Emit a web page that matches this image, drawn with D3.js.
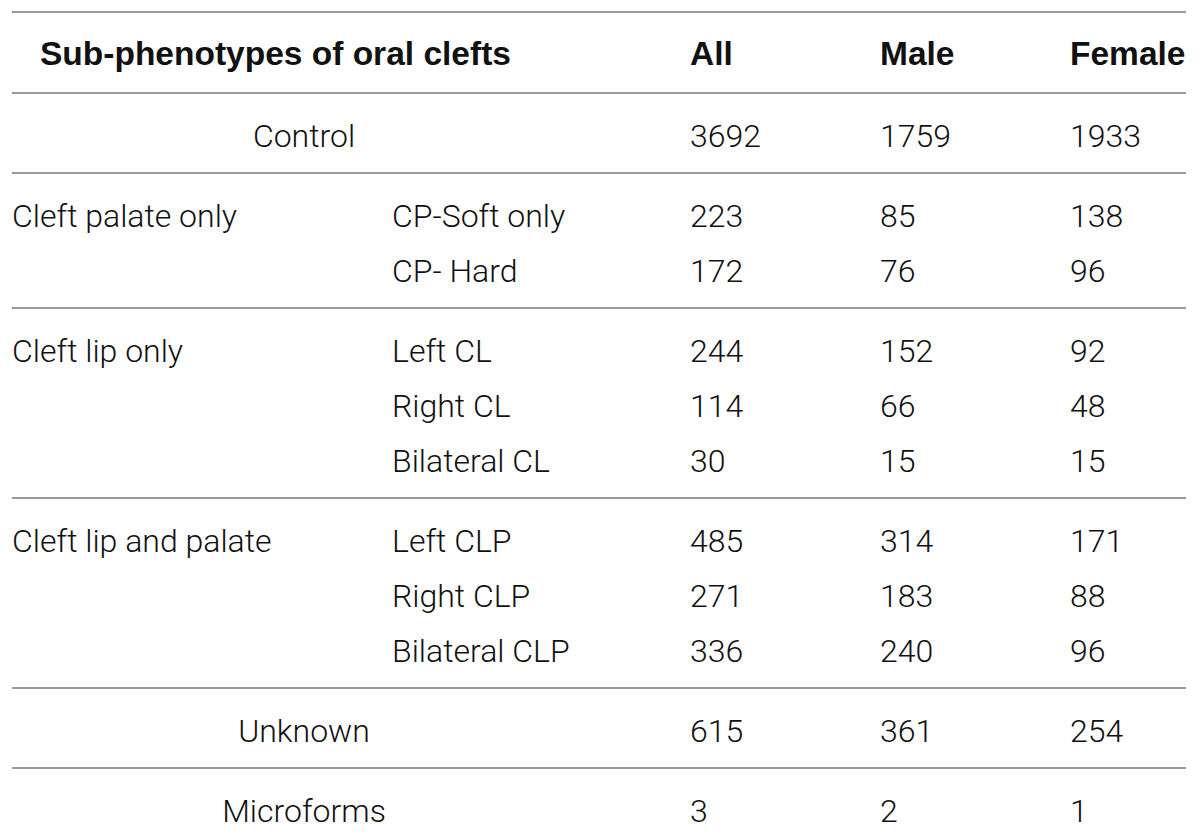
<!DOCTYPE html>
<html>
<head>
<meta charset="utf-8">
<script src="https://cdn.jsdelivr.net/npm/d3@7"></script>
<style>
  body { margin: 0; background: #fff; }
  text { fill: #111; }
</style>
</head>
<body>
<script>
// table values
const headers = ["Sub-phenotypes of oral clefts", "All", "Male", "Female"];
const groups = ["Control", "Cleft palate only", "Cleft lip only", "Cleft lip and palate", "Unknown", "Microforms"];
const rowGroup = [0, 1, 1, 2, 2, 2, 3, 3, 3, 4, 5];
const subtypes = ["", "CP-Soft only", "CP- Hard", "Left CL", "Right CL", "Bilateral CL", "Left CLP", "Right CLP", "Bilateral CLP", "", ""];
const allN = [3692, 223, 172, 244, 114, 30, 485, 271, 336, 615, 3];
const maleN = [1759, 85, 76, 152, 66, 15, 314, 183, 240, 361, 2];
const femaleN = [1933, 138, 96, 92, 48, 15, 171, 88, 96, 254, 1];

const W = 1200, H = 836;
const svg = d3.select("body").append("svg").attr("width", W).attr("height", H);

const x = d3.scaleOrdinal()
  .domain(["group", "sub", "all", "male", "female"])
  .range([12, 392, 690, 880, 1070]);
const mergedCenter = 304;

const tableTop = 12, headH = 81, pad = 12.5, rowH = 55;
const font = "Roboto, 'Liberation Sans', Arial, sans-serif";
const bodySize = "32px";

// group bands
let y0 = tableTop + headH;
const bands = groups.map((g, gi) => {
  const rows = rowGroup.map((d, i) => d === gi ? i : -1).filter(i => i >= 0);
  const h = pad * 2 + rows.length * rowH;
  const b = { name: g, top: y0, bottom: y0 + h, rows: rows };
  y0 += h;
  return b;
});
const rowY = [];
bands.forEach(b => b.rows.forEach((r, k) => rowY[r] = b.top + pad + rowH * k + rowH / 2 + 3));

// horizontal rules
const rules = [tableTop, tableTop + headH].concat(bands.slice(0, -1).map(b => b.bottom));
svg.selectAll("line.rule").data(rules).enter().append("line")
  .attr("class", "rule")
  .attr("x1", 12).attr("x2", 1186)
  .attr("y1", d => d).attr("y2", d => d)
  .attr("stroke", "#9a9a9a").attr("stroke-width", 2);

// header
const headX = [40, x("all"), x("male"), x("female")];
svg.selectAll("text.head").data(headers).enter().append("text")
  .attr("class", "head")
  .attr("x", (d, i) => headX[i])
  .attr("y", tableTop + headH / 2 + 1)
  .attr("dominant-baseline", "central")
  .style("font-family", "'Liberation Sans', Arial, sans-serif")
  .style("font-weight", "bold")
  .style("font-size", "33.5px")
  .text(d => d);

// group labels
svg.selectAll("text.group").data(bands).enter().append("text")
  .attr("class", "group")
  .attr("x", b => subtypes[b.rows[0]] === "" ? mergedCenter : x("group"))
  .attr("text-anchor", b => subtypes[b.rows[0]] === "" ? "middle" : "start")
  .attr("y", b => rowY[b.rows[0]])
  .attr("dominant-baseline", "central")
  .style("font-family", font).style("font-weight", 300).style("font-size", bodySize)
  .text(b => b.name);

// subtypes
svg.selectAll("text.sub").data(subtypes).enter().append("text")
  .attr("class", "sub")
  .attr("x", x("sub"))
  .attr("y", (d, i) => rowY[i])
  .attr("dominant-baseline", "central")
  .style("font-family", font).style("font-weight", 300).style("font-size", bodySize)
  .text(d => d);

// counts
[["all", allN], ["male", maleN], ["female", femaleN]].forEach(([k, vals]) => {
  svg.selectAll("text.n-" + k).data(vals).enter().append("text")
    .attr("class", "n-" + k)
    .attr("x", x(k))
    .attr("y", (d, i) => rowY[i])
    .attr("dominant-baseline", "central")
    .style("font-family", font).style("font-weight", 300).style("font-size", bodySize)
    .text(d => d);
});
</script>
</body>
</html>
